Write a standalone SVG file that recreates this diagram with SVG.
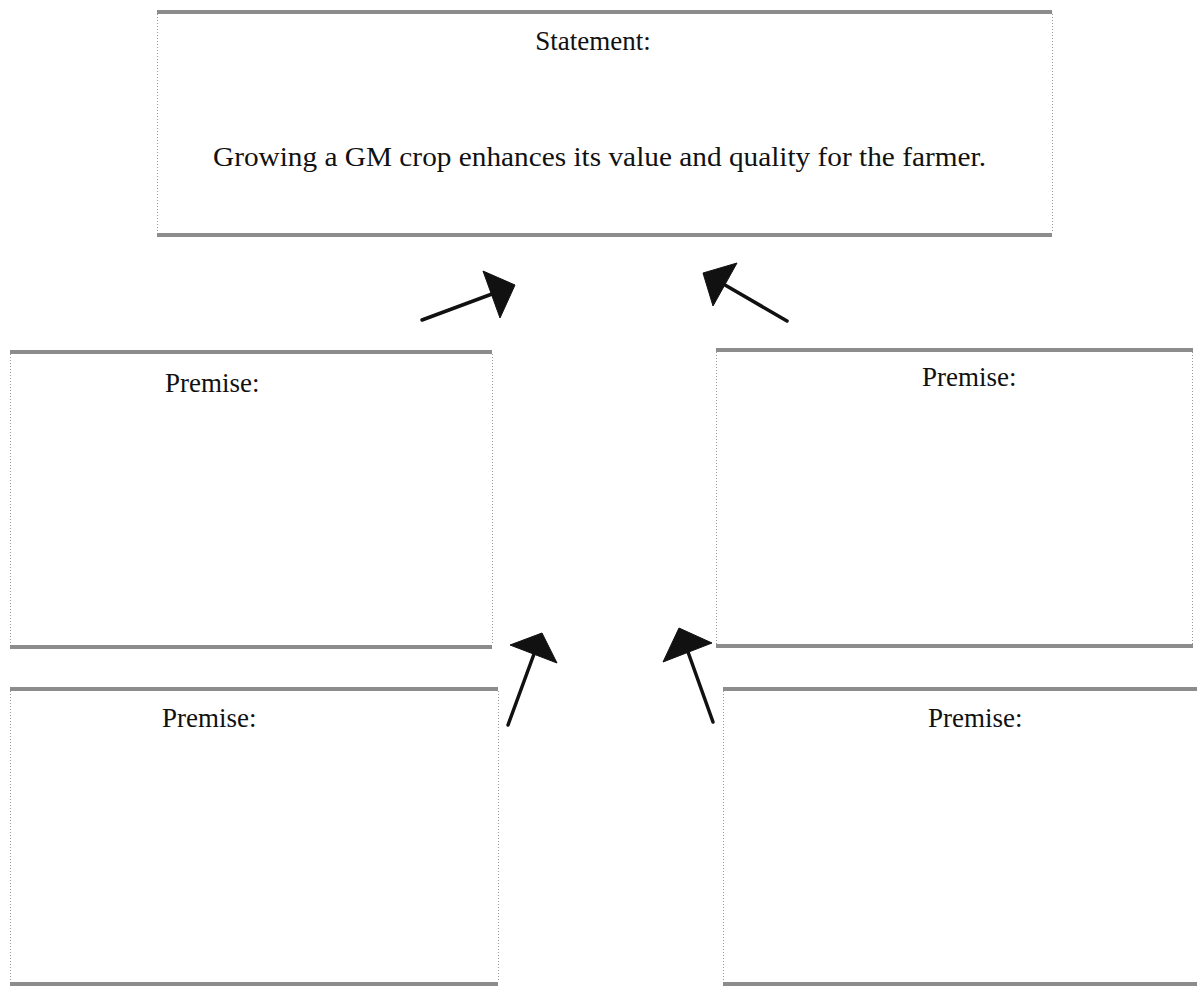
<svg xmlns="http://www.w3.org/2000/svg" width="1197" height="986" viewBox="0 0 1197 986">
<style>
.hb{stroke:#8c8c8c;stroke-width:4;fill:none}
.vb{stroke:#9a9a9a;stroke-width:1;stroke-dasharray:1 2;fill:none}
.t{font-family:"Liberation Serif","Times New Roman",serif;font-size:27px;fill:#111}
.ln{stroke:#111;stroke-width:3.5;stroke-linecap:round;fill:none}
.hd{fill:#111;stroke:#111;stroke-width:1;stroke-linejoin:round}
</style>
<rect width="1197" height="986" fill="#fff"/>
<g id="statement">
<line class="hb" x1="157" y1="12" x2="1052" y2="12"/>
<line class="hb" x1="157" y1="235" x2="1052" y2="235"/>
<line class="vb" x1="157.5" y1="14" x2="157.5" y2="233"/>
<line class="vb" x1="1052.5" y1="14" x2="1052.5" y2="233"/>
<text class="t" x="593" y="50" text-anchor="middle">Statement:</text>
<text class="t" x="213" y="166" textLength="773" lengthAdjust="spacingAndGlyphs">Growing a GM crop enhances its value and quality for the farmer.</text>
</g>
<g id="premise1">
<line class="hb" x1="10" y1="352" x2="492" y2="352"/>
<line class="hb" x1="10" y1="647" x2="492" y2="647"/>
<line class="vb" x1="10.5" y1="354" x2="10.5" y2="645"/>
<line class="vb" x1="492.5" y1="354" x2="492.5" y2="645"/>
<text class="t" x="165" y="392">Premise:</text>
</g>
<g id="premise2">
<line class="hb" x1="716" y1="350" x2="1193" y2="350"/>
<line class="hb" x1="716" y1="646" x2="1193" y2="646"/>
<line class="vb" x1="716.5" y1="352" x2="716.5" y2="644"/>
<line class="vb" x1="1192.5" y1="352" x2="1192.5" y2="644"/>
<text class="t" x="922" y="386">Premise:</text>
</g>
<g id="premise3">
<line class="hb" x1="10" y1="689" x2="498" y2="689"/>
<line class="hb" x1="10" y1="984" x2="498" y2="984"/>
<line class="vb" x1="10.5" y1="691" x2="10.5" y2="982"/>
<line class="vb" x1="498.5" y1="691" x2="498.5" y2="982"/>
<text class="t" x="162" y="727">Premise:</text>
</g>
<g id="premise4">
<line class="hb" x1="723" y1="689" x2="1197" y2="689"/>
<line class="hb" x1="723" y1="984" x2="1197" y2="984"/>
<line class="vb" x1="723.5" y1="691" x2="723.5" y2="982"/>
<text class="t" x="928" y="727">Premise:</text>
</g>
<g id="connectors">
<line class="ln" x1="422" y1="320" x2="492" y2="294"/>
<polygon class="hd" points="515,285 483,271 500,318"/>
<line class="ln" x1="787" y1="321" x2="725" y2="285"/>
<polygon class="hd" points="703,273 737,263 713,306"/>
<line class="ln" x1="508" y1="725" x2="534" y2="654"/>
<polygon class="hd" points="542,633 510,645 557,663"/>
<line class="ln" x1="713" y1="722" x2="688" y2="652"/>
<polygon class="hd" points="679,628 712,643 663,662"/>
</g>
</svg>
